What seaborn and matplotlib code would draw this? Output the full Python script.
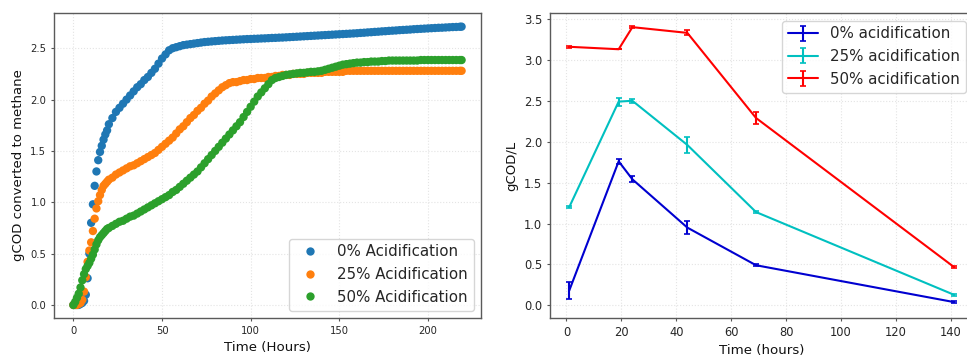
import numpy as np
import pandas as pd
import matplotlib
matplotlib.use("Agg")
import matplotlib.pyplot as plt
import seaborn as sns

# ---------------- Left panel data (cumulative methane) ----------------
t_early = list(range(0, 21))
t_late = list(range(22, 219, 2)) + [219]
time_hours = t_early + t_late

acid0_early = [0.00, 0.00, 0.00, 0.00, 0.01, 0.02, 0.04, 0.10, 0.26, 0.50, 0.80,
               0.98, 1.16, 1.30, 1.41, 1.49, 1.55, 1.61, 1.66, 1.70, 1.76]
acid0_late = [1.82, 1.88, 1.92, 1.96, 2.00, 2.04, 2.08, 2.12, 2.15, 2.19,
              2.22, 2.26, 2.30, 2.35, 2.40, 2.44, 2.48, 2.50, 2.51, 2.52,
              2.53, 2.535, 2.54, 2.545, 2.55, 2.555, 2.56, 2.563, 2.566, 2.569,
              2.572, 2.575, 2.577, 2.579, 2.581, 2.583, 2.585, 2.587, 2.589, 2.59,
              2.592, 2.593, 2.595, 2.596, 2.598, 2.60, 2.601, 2.603, 2.604, 2.606,
              2.608, 2.61, 2.612, 2.614, 2.616, 2.618, 2.62, 2.622, 2.624, 2.626,
              2.628, 2.63, 2.632, 2.634, 2.636, 2.638, 2.64, 2.642, 2.644, 2.646,
              2.649, 2.651, 2.654, 2.656, 2.659, 2.661, 2.664, 2.666, 2.669, 2.671,
              2.673, 2.676, 2.678, 2.68, 2.682, 2.685, 2.687, 2.689, 2.691, 2.693,
              2.695, 2.697, 2.699, 2.70, 2.702, 2.704, 2.706, 2.707, 2.709, 2.71]

acid25_early = [0.00, 0.00, 0.00, 0.01, 0.02, 0.05, 0.13, 0.27, 0.42, 0.53, 0.61,
                0.72, 0.84, 0.94, 1.01, 1.07, 1.12, 1.16, 1.18, 1.20, 1.22]
acid25_late = [1.24, 1.27, 1.29, 1.31, 1.33, 1.35, 1.36, 1.38, 1.40, 1.42,
               1.44, 1.46, 1.48, 1.51, 1.54, 1.57, 1.60, 1.63, 1.67, 1.71,
               1.74, 1.78, 1.82, 1.85, 1.89, 1.92, 1.96, 1.99, 2.03, 2.06,
               2.09, 2.12, 2.14, 2.16, 2.17, 2.17, 2.18, 2.19, 2.19, 2.20,
               2.20, 2.21, 2.21, 2.21, 2.22, 2.22, 2.23, 2.23, 2.24, 2.24,
               2.24, 2.25, 2.25, 2.25, 2.25, 2.26, 2.26, 2.26, 2.26, 2.26,
               2.27, 2.27, 2.27, 2.27, 2.27, 2.27, 2.28, 2.28, 2.28, 2.28,
               2.28, 2.28, 2.28, 2.28, 2.28, 2.28, 2.28, 2.28, 2.28, 2.28,
               2.28, 2.28, 2.28, 2.28, 2.28, 2.28, 2.28, 2.28, 2.28, 2.28,
               2.28, 2.28, 2.28, 2.28, 2.28, 2.28, 2.28, 2.28, 2.28, 2.28]

acid50_early = [0.00, 0.03, 0.07, 0.11, 0.17, 0.24, 0.30, 0.35, 0.38, 0.41, 0.45,
                0.49, 0.54, 0.59, 0.63, 0.66, 0.68, 0.70, 0.72, 0.74, 0.75]
acid50_late = [0.77, 0.79, 0.81, 0.82, 0.84, 0.86, 0.87, 0.89, 0.91, 0.93,
               0.95, 0.97, 0.99, 1.01, 1.03, 1.05, 1.07, 1.10, 1.12, 1.15,
               1.18, 1.21, 1.24, 1.27, 1.30, 1.34, 1.38, 1.42, 1.46, 1.50,
               1.54, 1.58, 1.62, 1.66, 1.70, 1.74, 1.78, 1.83, 1.88, 1.93,
               1.98, 2.03, 2.07, 2.11, 2.15, 2.19, 2.21, 2.22, 2.23, 2.24,
               2.245, 2.25, 2.255, 2.26, 2.26, 2.265, 2.27, 2.27, 2.275, 2.28,
               2.29, 2.30, 2.31, 2.32, 2.33, 2.34, 2.345, 2.35, 2.355, 2.36,
               2.36, 2.365, 2.365, 2.37, 2.37, 2.37, 2.375, 2.375, 2.38, 2.38,
               2.38, 2.38, 2.38, 2.38, 2.38, 2.38, 2.38, 2.385, 2.385, 2.385,
               2.385, 2.385, 2.385, 2.385, 2.385, 2.385, 2.385, 2.385, 2.385, 2.385]

series_names = ["0% Acidification", "25% Acidification", "50% Acidification"]
series_colors = ["#1f77b4", "#ff7f0e", "#2ca02c"]

# ---------------- Right panel data (gCOD/L) ----------------
sample_hours = [1, 19, 24, 44, 69, 141]
cod_0 = [0.18, 1.76, 1.54, 0.95, 0.49, 0.04]
cod_0_err = [0.10, 0.03, 0.035, 0.08, 0.01, 0.015]
cod_25 = [1.20, 2.49, 2.50, 1.96, 1.14, 0.13]
cod_25_err = [0.01, 0.05, 0.025, 0.10, 0.01, 0.01]
cod_50 = [3.16, 3.13, 3.40, 3.33, 2.29, 0.47]
cod_50_err = [0.01, 0.0, 0.01, 0.03, 0.075, 0.015]
right_labels = ["0% acidification", "25% acidification", "50% acidification"]
right_colors = ["#0000d0", "#00c0c0", "#ff0000"]

# ---------------- Style ----------------
sns.set_style("whitegrid", {
    "axes.edgecolor": "#5a5a5a",
    "grid.color": "#e4e4e4",
    "grid.linestyle": ":",
    "xtick.bottom": True,
    "ytick.left": True,
    "xtick.color": "#555555",
    "ytick.color": "#555555",
})
plt.rcParams["font.family"] = ["DejaVu Sans"]
plt.rcParams["axes.linewidth"] = 1.0
plt.rcParams["xtick.major.size"] = 2.5
plt.rcParams["ytick.major.size"] = 2.5
plt.rcParams["grid.linewidth"] = 0.8

fig = plt.figure(figsize=(9.67, 3.56), dpi=100)
W, H = 967, 356
ax1 = fig.add_axes([54 / W, 38 / H, (481 - 54) / W, (318 - 13) / H])
ax2 = fig.add_axes([550 / W, 38 / H, (973 - 550) / W, (318 - 13) / H])

# Left panel
frames = []
for name, early, late in zip(series_names,
                             [acid0_early, acid25_early, acid50_early],
                             [acid0_late, acid25_late, acid50_late]):
    frames.append(pd.DataFrame({"Time": time_hours, "value": early + late,
                                "series": name}))
df = pd.concat(frames, ignore_index=True)
sns.scatterplot(data=df, x="Time", y="value", hue="series",
                palette=series_colors, s=36, linewidth=0, ax=ax1)
ax1.set_xlim(-10.95, 229.95)
ax1.set_ylim(-0.127, 2.843)
ax1.set_xticks([0, 50, 100, 150, 200])
ax1.set_yticks([0.0, 0.5, 1.0, 1.5, 2.0, 2.5])
ax1.set_yticklabels(["0.0", "0.5", "1.0", "1.5", "2.0", "2.5"])
ax1.tick_params(labelsize=7.2, labelcolor="#262626", pad=3)
ax1.set_xlabel("Time (Hours)", fontsize=9.6, color="#111111")
ax1.set_ylabel("gCOD converted to methane", fontsize=9.5, color="#111111")
sns.move_legend(ax1, "lower right", title=None, fontsize=10.8,
                frameon=True, markerscale=1.0)

# Right panel
for y, e, lab, c in zip([cod_0, cod_25, cod_50], [cod_0_err, cod_25_err, cod_50_err],
                        right_labels, right_colors):
    ax2.errorbar(sample_hours, y, yerr=e, color=c, label=lab, lw=1.5,
                 elinewidth=1.5, capsize=2, capthick=1.2)
ax2.set_xlim(-6, 148)
ax2.set_ylim(-0.155, 3.573)
ax2.set_xticks([0, 20, 40, 60, 80, 100, 120, 140])
ax2.set_yticks([0.0, 0.5, 1.0, 1.5, 2.0, 2.5, 3.0, 3.5])
ax2.set_yticklabels(["0.0", "0.5", "1.0", "1.5", "2.0", "2.5", "3.0", "3.5"])
ax2.tick_params(labelsize=8.3, labelcolor="#262626", pad=3)
ax2.set_xlabel("Time (hours)", fontsize=9.6, color="#111111")
ax2.set_ylabel("gCOD/L", fontsize=9.5, color="#111111")
ax2.legend(loc="upper right", fontsize=10.8, frameon=True)

for ax in (ax1, ax2):
    ax.grid(True)
    for sp in ax.spines.values():
        sp.set_color("#5a5a5a")

fig.savefig("out.png", dpi=100)
